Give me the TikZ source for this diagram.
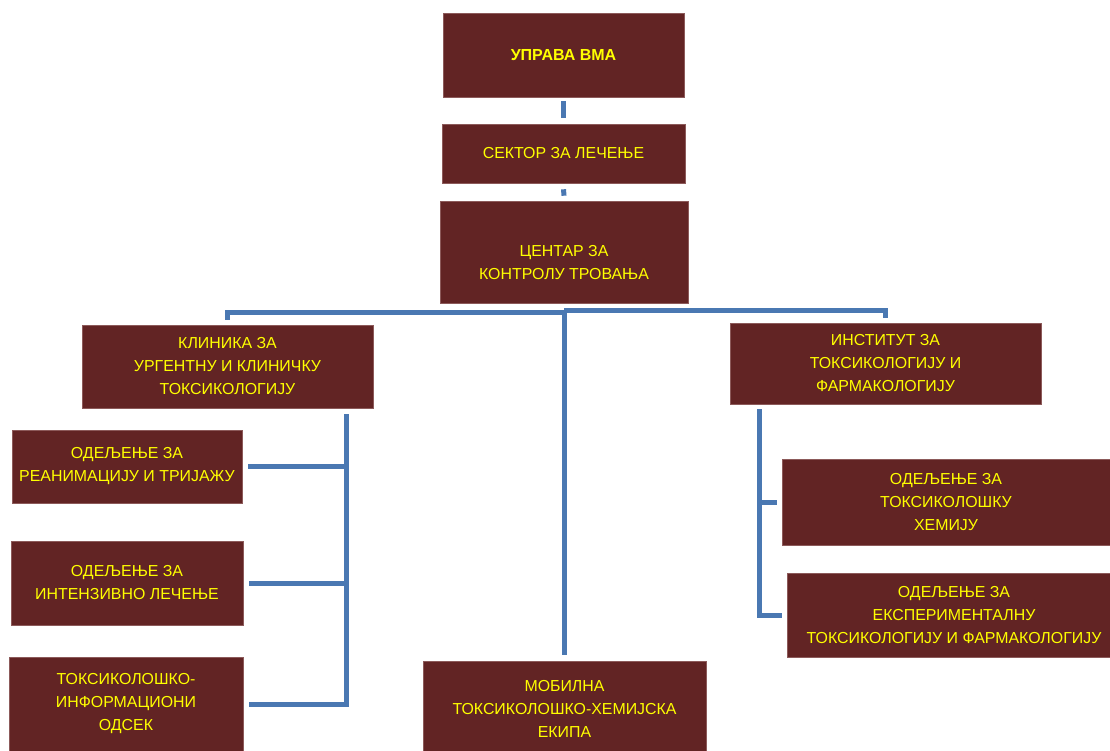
\documentclass[tikz,border=0pt]{standalone}
\usepackage{fontspec}
\setmainfont{Liberation Sans}
\definecolor{boxfill}{HTML}{622424}
\definecolor{boxedge}{HTML}{8C5A5A}
\definecolor{boxtext}{HTML}{FFFF00}
\definecolor{connblue}{HTML}{4A78B2}
\begin{document}
\begin{tikzpicture}[x=1pt,y=-1pt,
  box/.style={draw=boxedge, line width=0.6pt, fill=boxfill, text=boxtext, align=center,
    inner sep=0pt, font=\fontsize{15.9}{23}\selectfont},
  conn/.style={draw=connblue, line width=5pt}]
\useasboundingbox (0,0) rectangle (1110,751);

% boxes
\node[box, minimum width=241pt, minimum height=84pt, font=\fontsize{16}{23}\selectfont\bfseries] (upr) at (563.5,55) {УПРАВА ВМА};
\node[box, minimum width=243pt, minimum height=59pt] (sek) at (563.5,153.5) {СЕКТОР ЗА ЛЕЧЕЊЕ};
\node[box, minimum width=248pt, minimum height=102pt,
  label={[text=boxtext, align=center, font=\fontsize{15.9}{23}\selectfont, yshift=-11pt]center:ЦЕНТАР ЗА\\КОНТРОЛУ ТРОВАЊА}] (cen) at (564,252) {};
\node[box, minimum width=291pt, minimum height=83pt] (kli) at (227.5,366.5) {КЛИНИКА ЗА\\УРГЕНТНУ И КЛИНИЧКУ\\ТОКСИКОЛОГИЈУ};
\node[box, minimum width=311pt, minimum height=81pt] (ins) at (885.5,363.5) {ИНСТИТУТ ЗА\\ТОКСИКОЛОГИЈУ И\\ФАРМАКОЛОГИЈУ};
\node[box, minimum width=230pt, minimum height=73pt] (rea) at (127,466.5) {ОДЕЉЕЊЕ ЗА\\РЕАНИМАЦИЈУ И ТРИЈАЖУ};
\node[box, minimum width=232pt, minimum height=84pt] (int) at (127,583) {ОДЕЉЕЊЕ ЗА\\ИНТЕНЗИВНО ЛЕЧЕЊЕ};
\node[box, minimum width=234pt, minimum height=94pt] (tox) at (126,704) {ТОКСИКОЛОШКО-\\ИНФОРМАЦИОНИ\\ОДСЕК};
\node[box, minimum width=283pt, minimum height=96pt] (mob) at (564.5,709) {МОБИЛНА\\ТОКСИКОЛОШКО-ХЕМИЈСКА\\ЕКИПА};
\node[box, minimum width=328pt, minimum height=86pt] (hem) at (946,502) {ОДЕЉЕЊЕ ЗА\\ТОКСИКОЛОШКУ\\ХЕМИЈУ};
\node[box, minimum width=334pt, minimum height=84pt] (eks) at (954,615) {ОДЕЉЕЊЕ ЗА\\ЕКСПЕРИМЕНТАЛНУ\\ТОКСИКОЛОГИЈУ И ФАРМАКОЛОГИЈУ};

% junction coordinates
\coordinate (hub) at ([yshift=-8pt]cen.south);
\coordinate (lt) at (346,414);
\coordinate (rt) at (759.5,409);

% connectors
\draw[conn] ([yshift=-4pt]upr.south) -- ([yshift=6pt]sek.north);
\draw[conn] ([yshift=-6pt]sek.south) -- ([yshift=5pt]cen.north);
\draw[conn] ([yshift=5pt]kli.north) |- ([yshift=-1.5pt]hub);
\draw[conn] ([yshift=1pt]hub) -| ([yshift=5pt]ins.north);
\draw[conn] (hub) -- ([yshift=6pt]hub |- mob.north);

\draw[conn] (lt) -- (lt |- tox.east) -- ([xshift=6pt]tox.east);
\draw[conn] ([xshift=6pt]rea.east) -- (lt |- rea.east);
\draw[conn] ([xshift=6pt]int.east) -- (lt |- int.east);

\draw[conn] (rt) -- (rt |- eks.west) -- ([xshift=-5pt]eks.west);
\draw[conn] (rt |- hem.west) -- ([xshift=-5pt]hem.west);
\end{tikzpicture}
\end{document}
